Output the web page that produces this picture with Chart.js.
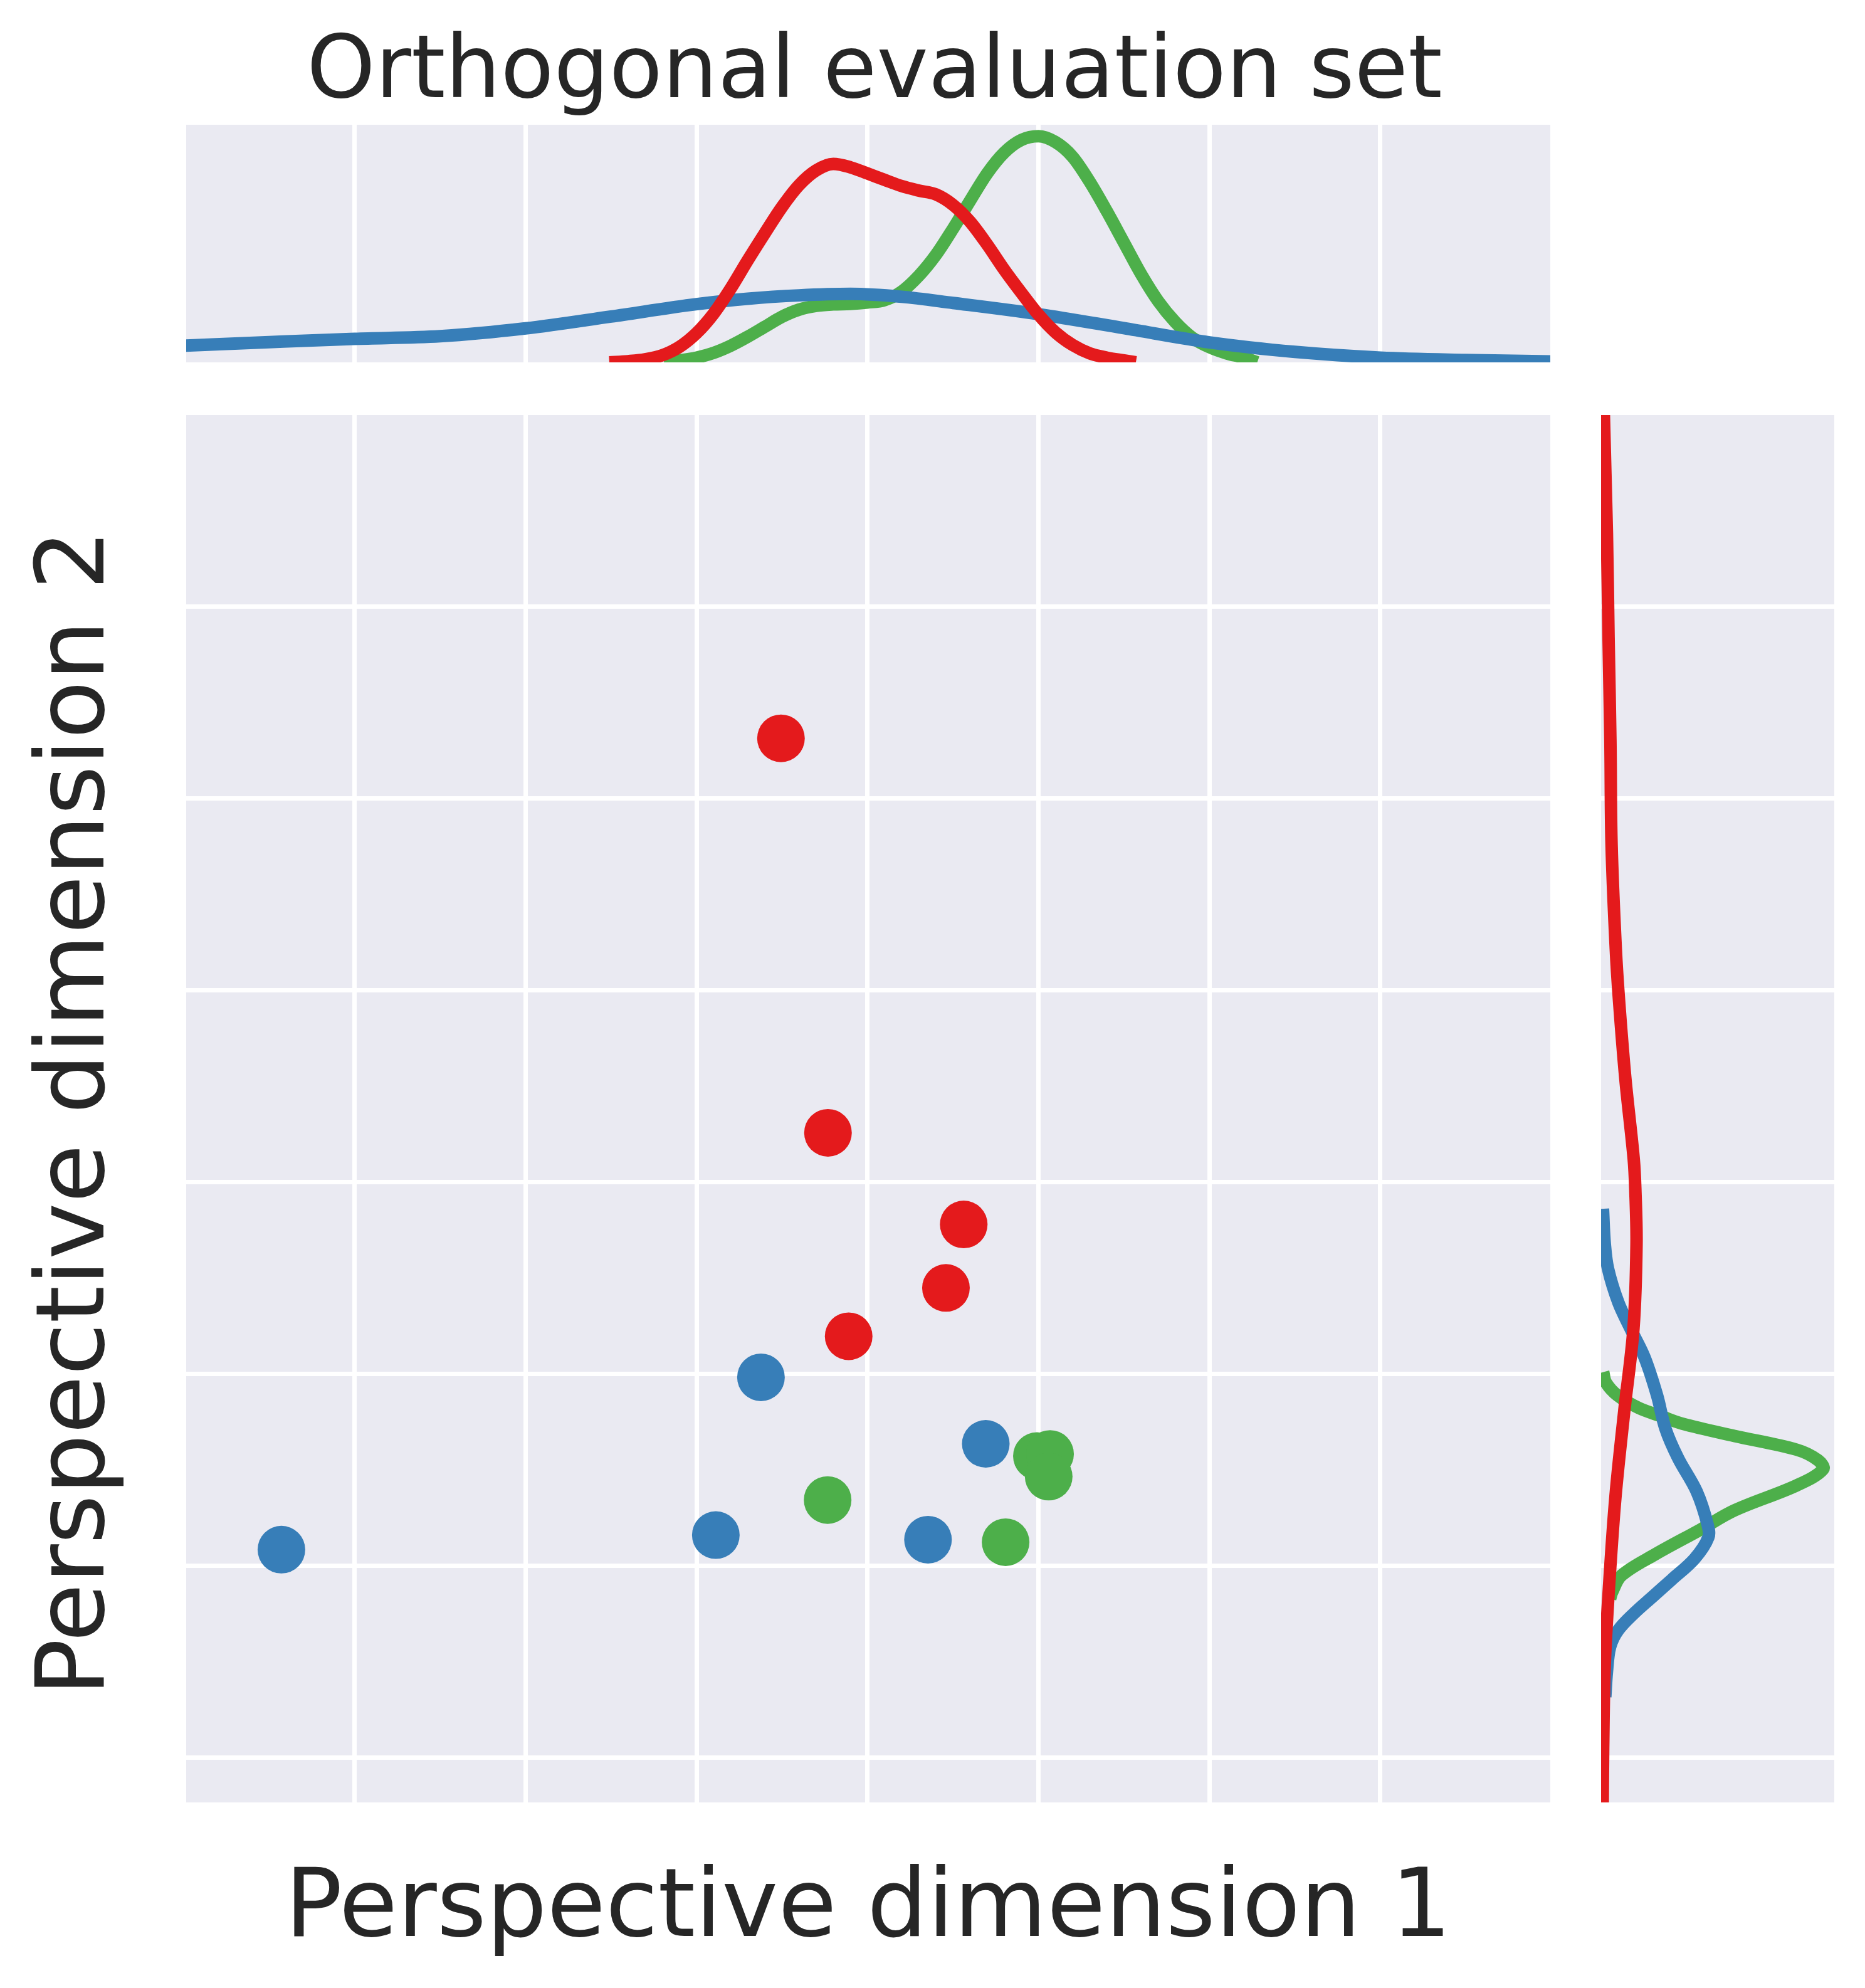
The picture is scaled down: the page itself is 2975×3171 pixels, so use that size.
<!DOCTYPE html>
<html>
<head>
<meta charset="utf-8">
<script src="https://cdn.jsdelivr.net/npm/chart.js@4.4.1/dist/chart.umd.min.js"></script>
<style>
html,body{margin:0;padding:0;background:#ffffff;}
#page{position:relative;width:2975px;height:3171px;overflow:hidden;background:#ffffff;font-family:"DejaVu Sans",sans-serif;color:#262626;}
canvas{position:absolute;display:block;}
.lbl{position:absolute;white-space:nowrap;line-height:1;text-align:center;}
</style>
</head>
<body>
<div id="page">
  <canvas id="topKde" width="2176" height="379" style="left:297px;top:199px;width:2176px;height:379px"></canvas>
  <canvas id="main" width="2176" height="2213" style="left:297px;top:662px;width:2176px;height:2213px"></canvas>
  <canvas id="rightKde" width="372" height="2213" style="left:2554px;top:662px;width:372px;height:2213px"></canvas>
  <div class="lbl" id="title" style="left:395px;width:2000px;top:38px;font-size:139px;">Orthogonal evaluation set</div>
  <div class="lbl" id="xlabel" style="left:385px;width:2000px;top:2960px;font-size:152px;">Perspective dimension 1</div>
  <div class="lbl" id="ylabel" style="left:113px;top:1775px;font-size:152px;transform:translate(-50%,-50%) rotate(-90deg);">Perspective dimension 2</div>
</div>
<script>
// ---- scatter points (main panel) ----
const redX   = [3.494, 3.769, 4.563, 4.459, 3.890];
const redY   = [5.314, 3.257, 2.779, 2.448, 2.196];
const blueX  = [0.572, 3.377, 3.113, 4.354, 4.692];
const blueY  = [1.083, 1.982, 1.159, 1.135, 1.635];
const greenX = [3.767, 4.991, 5.068, 5.060, 4.808];
const greenY = [1.342, 1.571, 1.582, 1.464, 1.122];

// ---- top marginal densities (x position, relative height) ----
const topRedX = [2.49,2.6,2.7,2.8,2.9,3.0,3.1,3.2,3.3,3.4,3.5,3.6,3.7,3.8,3.9,4.0,4.1,4.2,4.3,4.4,4.5,4.6,4.7,4.8,4.9,5.0,5.1,5.2,5.3,5.4,5.5,5.57];
const topRedD = [0.000,0.005,0.013,0.030,0.065,0.123,0.205,0.311,0.430,0.544,0.654,0.746,0.808,0.835,0.821,0.795,0.768,0.742,0.723,0.707,0.663,0.592,0.496,0.390,0.293,0.201,0.126,0.073,0.038,0.020,0.008,0.000];
const topGreenX = [2.81,2.9,3.0,3.1,3.2,3.3,3.4,3.5,3.6,3.7,3.8,3.9,4.0,4.1,4.2,4.3,4.4,4.5,4.6,4.7,4.8,4.9,5.0,5.1,5.2,5.3,5.4,5.5,5.6,5.7,5.8,5.9,6.0,6.1,6.2,6.28];
const topGreenD = [0.000,0.008,0.020,0.040,0.070,0.108,0.150,0.192,0.222,0.238,0.244,0.246,0.252,0.262,0.298,0.364,0.452,0.562,0.680,0.795,0.883,0.936,0.952,0.927,0.865,0.760,0.636,0.504,0.372,0.258,0.170,0.104,0.064,0.038,0.020,0.000];
const topBlueX = [0,0.5,1,1.5,2,2.5,3,3.3,3.6,3.9,4.2,4.5,5,5.5,6,6.5,7,7.5,8];
const topBlueD = [0.070,0.085,0.099,0.110,0.143,0.193,0.245,0.268,0.282,0.288,0.276,0.250,0.203,0.144,0.084,0.044,0.020,0.010,0.004];

// ---- right marginal densities (y position, relative width) ----
const rightRedY = [-0.40,-0.237,0.052,0.490,0.927,1.364,1.801,2.238,2.676,2.958,3.12,3.541,3.947,4.218,4.759,5.301,5.843,6.385,7.0,7.3];
const rightRedD = [0.006,0.007,0.009,0.016,0.036,0.062,0.099,0.139,0.152,0.147,0.140,0.104,0.077,0.063,0.045,0.040,0.032,0.025,0.012,0.009];
const rightBlueY = [0.315,0.446,0.577,0.664,0.752,0.839,0.927,1.036,1.147,1.213,1.386,1.561,1.714,1.888,2.087,2.241,2.372,2.547,2.676,2.861];
const rightBlueD = [0.018,0.025,0.039,0.074,0.142,0.222,0.303,0.401,0.460,0.457,0.410,0.330,0.276,0.240,0.186,0.124,0.074,0.030,0.016,0.008];
const rightGreenY = [0.828,0.861,0.949,1.058,1.189,1.288,1.419,1.502,1.550,1.604,1.676,1.740,1.779,1.823,1.888,1.954,2.009];
const rightGreenD = [0.039,0.047,0.088,0.231,0.428,0.572,0.840,0.952,0.930,0.840,0.572,0.348,0.258,0.160,0.070,0.021,0.009];

// ---- axes ----
const X_MIN = 0.015, X_MAX = 7.994;
const Y_MIN = -0.235, Y_MAX = 7.0;
const X_GRID = [1,2,3,4,5,6,7];
const Y_GRID = [0,1,2,3,4,5,6];

const RED = '#E41A1C', BLUE = '#377EB8', GREEN = '#4DAF4A';
const BG = '#EAEAF2';

const pts = (xs, ys) => xs.map((x, i) => ({x: x, y: ys[i]}));
const ptsYX = (ys, ds) => ys.map((y, i) => ({x: ds[i], y: y}));

function scale(min, max, ticks, showGrid) {
  return {
    type: 'linear', min: min, max: max, display: true,
    grid: { display: showGrid, color: '#ffffff', lineWidth: 7, drawTicks: false },
    border: { display: false },
    ticks: { display: false },
    afterBuildTicks: s => { s.ticks = ticks.map(v => ({ value: v })); },
    afterFit: s => { if (s.isHorizontal()) { s.height = 0; } else { s.width = 0; } }
  };
}

const bgPlugin = {
  id: 'bgfill',
  beforeDraw(chart) {
    const a = chart.chartArea, ctx = chart.ctx;
    ctx.save();
    ctx.fillStyle = BG;
    ctx.fillRect(a.left, a.top, a.right - a.left, a.bottom - a.top);
    ctx.restore();
  }
};

const common = {
  responsive: false, animation: false, devicePixelRatio: 1, events: [],
  layout: { padding: 0, autoPadding: false },
  plugins: { legend: { display: false }, tooltip: { enabled: false }, title: { display: false } }
};

// main scatter
new Chart(document.getElementById('main'), {
  type: 'scatter',
  data: { datasets: [
    { label: 'red', data: pts(redX, redY), backgroundColor: RED, borderWidth: 0, pointRadius: 38 },
    { label: 'blue', data: pts(blueX, blueY), backgroundColor: BLUE, borderWidth: 0, pointRadius: 38 },
    { label: 'green', data: pts(greenX, greenY), backgroundColor: GREEN, borderWidth: 0, pointRadius: 38 }
  ]},
  options: Object.assign({}, common, {
    scales: { x: scale(X_MIN, X_MAX, X_GRID, true), y: scale(Y_MIN, Y_MAX, Y_GRID, true) }
  }),
  plugins: [bgPlugin]
});

function kdeSet(label, data, color, extra) {
  return Object.assign({ label: label, data: data, borderColor: color, backgroundColor: color,
    borderWidth: 20, pointRadius: 0, fill: false, clip: 0 }, extra);
}

// top marginal
new Chart(document.getElementById('topKde'), {
  type: 'line',
  data: { datasets: [
    kdeSet('red', pts(topRedX, topRedD), RED, { cubicInterpolationMode: 'monotone' }),
    kdeSet('blue', pts(topBlueX, topBlueD), BLUE, { cubicInterpolationMode: 'monotone' }),
    kdeSet('green', pts(topGreenX, topGreenD), GREEN, { cubicInterpolationMode: 'monotone' })
  ]},
  options: Object.assign({}, common, {
    scales: { x: scale(X_MIN, X_MAX, X_GRID, true), y: scale(0, 1, [], false) }
  }),
  plugins: [bgPlugin]
});

// right marginal
new Chart(document.getElementById('rightKde'), {
  type: 'line',
  data: { datasets: [
    kdeSet('red', ptsYX(rightRedY, rightRedD), RED, { tension: 0.35 }),
    kdeSet('blue', ptsYX(rightBlueY, rightBlueD), BLUE, { tension: 0.35 }),
    kdeSet('green', ptsYX(rightGreenY, rightGreenD), GREEN, { tension: 0.35 })
  ]},
  options: Object.assign({}, common, {
    indexAxis: 'y',
    scales: { x: scale(0, 1, [], false), y: scale(Y_MIN, Y_MAX, Y_GRID, true) }
  }),
  plugins: [bgPlugin]
});
</script>
</body>
</html>
